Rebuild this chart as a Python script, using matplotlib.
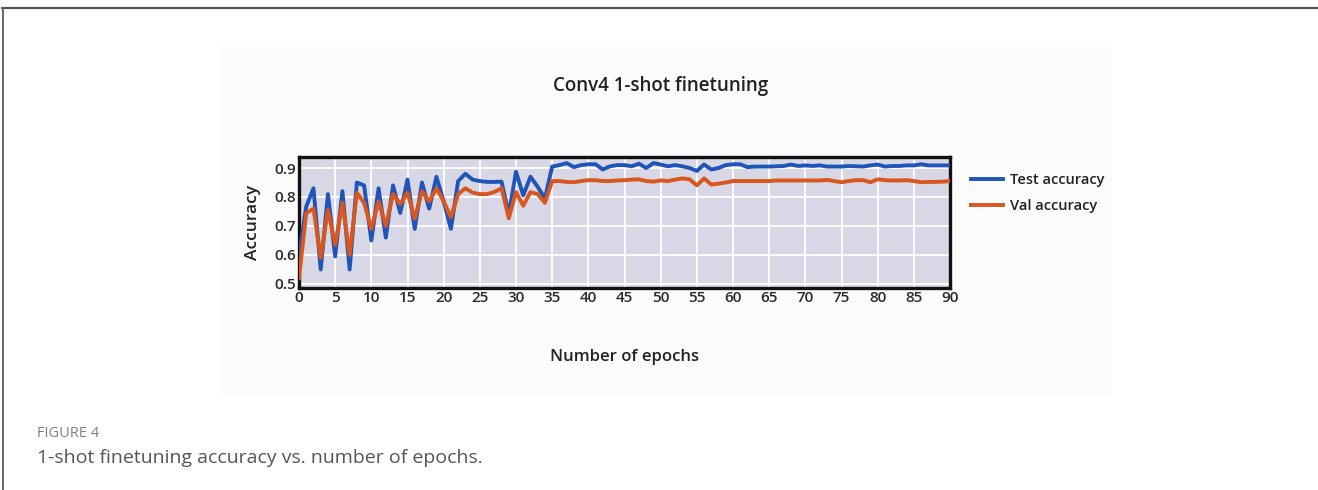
import matplotlib
matplotlib.use("Agg")
import matplotlib.pyplot as plt
from matplotlib.patches import Rectangle
from matplotlib.lines import Line2D

# Accuracy per epoch (0..90)
epochs = list(range(91))
test_acc = [
    0.60, 0.767, 0.83, 0.55, 0.81, 0.595, 0.82, 0.55, 0.85, 0.84,
    0.65, 0.83, 0.66, 0.84, 0.745, 0.86, 0.69, 0.85, 0.76, 0.87,
    0.785, 0.69, 0.855, 0.88, 0.86, 0.855, 0.852, 0.852, 0.853, 0.74,
    0.887, 0.806, 0.87, 0.835, 0.795, 0.905, 0.91, 0.917, 0.903, 0.91,
    0.913, 0.913, 0.895, 0.906, 0.91, 0.91, 0.906, 0.915, 0.90, 0.917,
    0.912, 0.906, 0.91, 0.906, 0.90, 0.89, 0.912, 0.895, 0.90, 0.91,
    0.913, 0.913, 0.903, 0.905, 0.905, 0.905, 0.906, 0.907, 0.912, 0.907,
    0.909, 0.907, 0.909, 0.905, 0.905, 0.905, 0.907, 0.906, 0.905, 0.909,
    0.912, 0.905, 0.907, 0.907, 0.909, 0.909, 0.913, 0.909, 0.909, 0.909,
    0.909,
]
val_acc = [
    0.52, 0.744, 0.76, 0.59, 0.755, 0.635, 0.78, 0.60, 0.815, 0.78,
    0.69, 0.785, 0.70, 0.81, 0.775, 0.815, 0.725, 0.82, 0.785, 0.83,
    0.785, 0.73, 0.81, 0.83, 0.815, 0.81, 0.81, 0.817, 0.83, 0.727,
    0.817, 0.77, 0.817, 0.81, 0.78, 0.855, 0.855, 0.852, 0.851, 0.855,
    0.858, 0.858, 0.855, 0.855, 0.857, 0.858, 0.86, 0.861, 0.855, 0.853,
    0.857, 0.855, 0.86, 0.864, 0.861, 0.84, 0.864, 0.843, 0.846, 0.85,
    0.855, 0.855, 0.855, 0.855, 0.855, 0.855, 0.857, 0.857, 0.857, 0.857,
    0.857, 0.857, 0.857, 0.859, 0.855, 0.851, 0.855, 0.858, 0.858, 0.851,
    0.861, 0.858, 0.857, 0.857, 0.858, 0.855, 0.851, 0.852, 0.852, 0.853,
    0.855,
]
x_ticks = list(range(0, 91, 5))
y_ticks = [0.5, 0.6, 0.7, 0.8, 0.9]

W, H = 1318, 490
fig = plt.figure(figsize=(W / 100, H / 100), dpi=100)
fig.patch.set_facecolor("white")

def fx(px):
    return px / W

def fy(py):
    return 1 - py / H

# page frame lines
fig.add_artist(Line2D([fx(2), 1], [fy(8.5), fy(8.5)], color="#555555", lw=1.6))
fig.add_artist(Line2D([fx(2.5), fx(2.5)], [fy(8.5), 0], color="#666666", lw=1.4))

# light panel behind the chart
fig.add_artist(Rectangle((fx(220), fy(396)), fx(1112) - fx(220), fy(47) - fy(396),
                         transform=fig.transFigure, facecolor="#fbfbfb",
                         edgecolor="none", zorder=0))

cfont = ["Open Sans", "DejaVu Sans"]

ax = fig.add_axes([fx(299), fy(288), fx(950) - fx(299), fy(157) - fy(288)])
ax.set_facecolor("#d7d7e5")
ax.plot(epochs, test_acc, color="#1f55b8", lw=2.8, label="Test accuracy", zorder=3)
ax.plot(epochs, val_acc, color="#d9561f", lw=2.8, label="Val accuracy", zorder=3)
ax.set_xlim(0, 90)
ax.set_ylim(0.486, 0.938)
ax.set_xticks(x_ticks)
ax.set_yticks(y_ticks)
ax.grid(True, color="white", lw=1.3)
ax.set_axisbelow(True)
for s in ax.spines.values():
    s.set_color("#111111")
    s.set_linewidth(2.4)
ax.tick_params(length=0, pad=2, labelsize=11, colors="#2a2a2a")
for lab in ax.get_xticklabels() + ax.get_yticklabels():
    lab.set_family(cfont)
    lab.set_fontweight("semibold")

fig.text(fx(661), fy(86), "Conv4 1-shot finetuning", family=cfont, fontsize=13.5,
         color="#222222", fontweight="semibold", ha="center", va="center")
ax.set_xlabel("Number of epochs", family=cfont, fontsize=12, color="#222222",
              labelpad=32, fontweight="semibold")
ax.set_ylabel("Accuracy", family=cfont, fontsize=12.5, color="#222222",
              labelpad=10, fontweight="semibold")

leg = fig.legend(loc="upper left", bbox_to_anchor=(fx(958), fy(160)), frameon=False,
                 prop={"family": cfont, "size": 10.5, "weight": "semibold"},
                 handlelength=2.2, handletextpad=0.5, labelspacing=0.8)
for t in leg.get_texts():
    t.set_color("#222222")

fig.text(fx(37), fy(433), "FIGURE 4", fontsize=10.5, color="#808080",
         family=["Open Sans", "DejaVu Sans"], va="center")
fig.text(fx(37), fy(458), "1-shot finetuning accuracy vs. number of epochs.",
         fontsize=14, color="#555555", family=["Open Sans", "DejaVu Sans"],
         va="center")

fig.savefig("out.png", dpi=100, facecolor="white")
